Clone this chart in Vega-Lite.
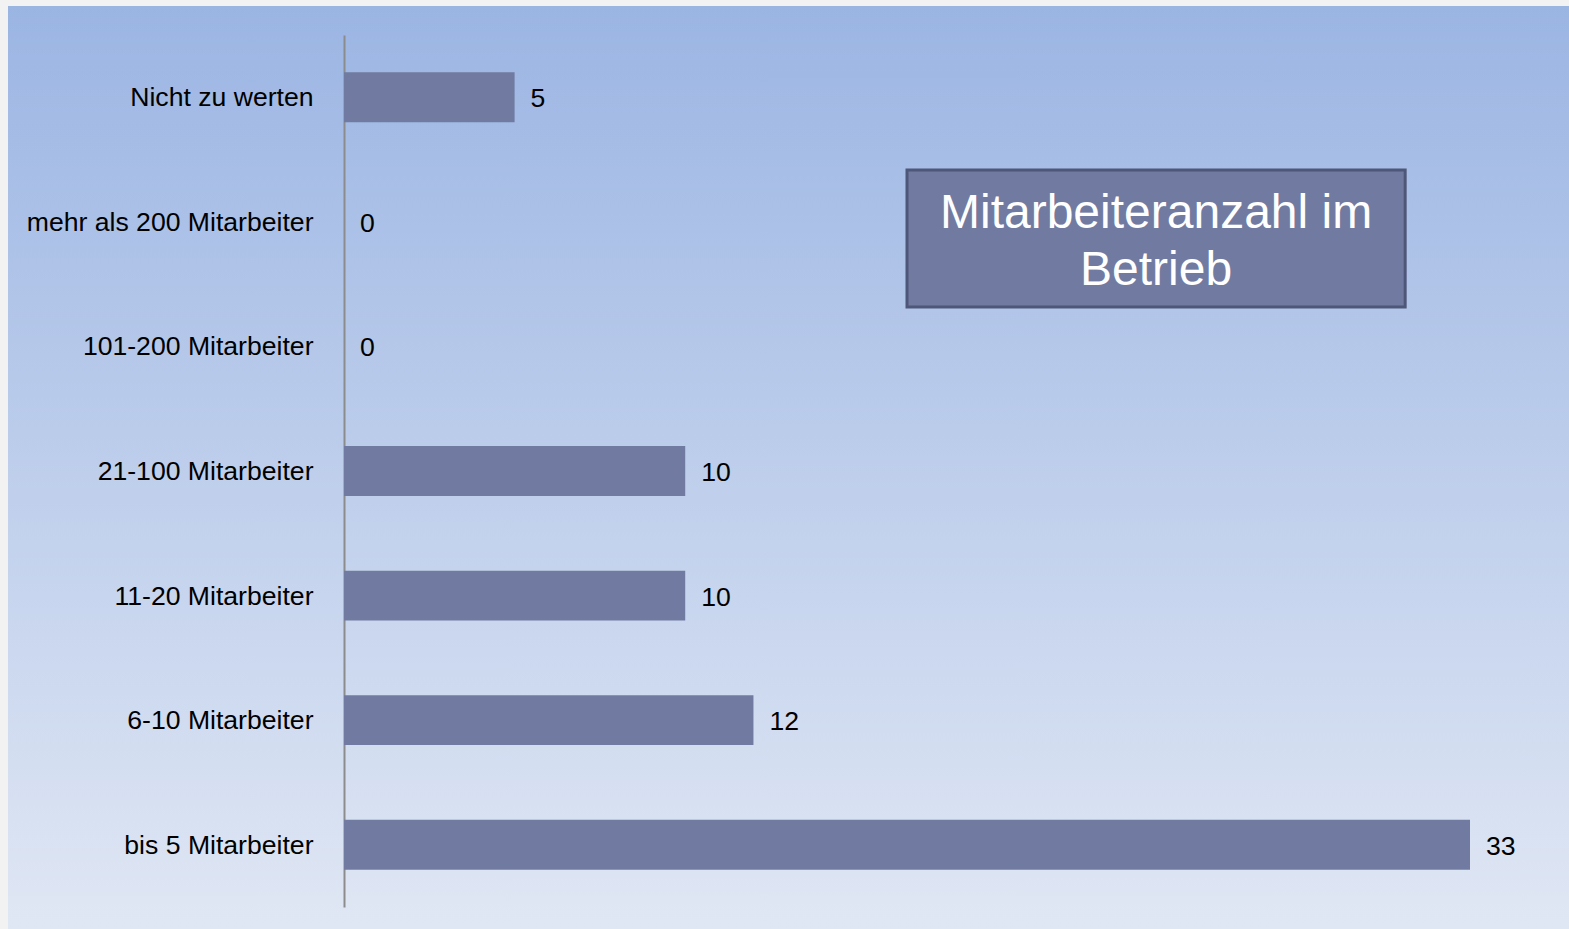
{
  "$schema": "https://vega.github.io/schema/vega-lite/v6.json",
  "width": 1561,
  "height": 923,
  "autosize": {"type": "none"},
  "padding": {"left": 8, "top": 6, "right": 0, "bottom": 0},
  "background": "#f2f2f2",
  "config": {
    "font": "Liberation Sans",
    "view": {
      "stroke": null,
      "fill": {
        "gradient": "linear", "x1": 0, "y1": 0, "x2": 0, "y2": 1,
        "stops": [
          {"offset": 0, "color": "#9bb5e3"},
          {"offset": 1, "color": "#e0e7f4"}
        ]
      }
    }
  },
  "data": {
    "values": [
      {"category": "Nicht zu werten", "count": 5},
      {"category": "mehr als 200 Mitarbeiter", "count": 0},
      {"category": "101-200 Mitarbeiter", "count": 0},
      {"category": "21-100 Mitarbeiter", "count": 10},
      {"category": "11-20 Mitarbeiter", "count": 10},
      {"category": "6-10 Mitarbeiter", "count": 12},
      {"category": "bis 5 Mitarbeiter", "count": 33}
    ]
  },
  "layer": [
    {
      "mark": {"type": "bar", "color": "#717ba1"},
      "encoding": {
        "y": {
          "field": "category", "type": "nominal", "sort": null,
          "scale": {"range": [29, 901], "paddingInner": 0.6, "paddingOuter": 0.3},
          "axis": {
            "title": null, "offset": -336, "ticks": false,
            "domainColor": "#8c8c8c", "domainWidth": 2,
            "labelPadding": 31, "labelFontSize": 26.6, "labelColor": "#000000",
            "labelFont": "Liberation Sans", "labelLimit": 500, "labelOffset": 1
          }
        },
        "x": {
          "field": "count", "type": "quantitative",
          "scale": {"domain": [0, 33], "range": [336, 1462], "nice": false},
          "axis": null
        }
      }
    },
    {
      "mark": {"type": "text", "align": "left", "baseline": "middle", "dx": 16, "dy": 2, "fontSize": 26.6, "color": "#000000"},
      "encoding": {
        "y": {"field": "category", "type": "nominal", "sort": null},
        "x": {"field": "count", "type": "quantitative"},
        "text": {"field": "count", "type": "quantitative"}
      }
    },
    {
      "data": {"values": [{"label": "Mitarbeiteranzahl im Betrieb"}]},
      "mark": {"type": "rect", "fill": "#717ba1", "stroke": "#4f5779", "strokeWidth": 3},
      "encoding": {
        "x": {"datum": 16.5, "type": "quantitative"},
        "x2": {"datum": 31.1},
        "y": {"value": 164},
        "y2": {"value": 301}
      }
    },
    {
      "data": {"values": [{"label": "Mitarbeiteranzahl im Betrieb"}]},
      "mark": {"type": "text", "align": "center", "baseline": "middle", "fontSize": 48, "lineHeight": 57, "color": "#ffffff"},
      "encoding": {
        "x": {"datum": 23.8, "type": "quantitative"},
        "y": {"value": 207.5},
        "text": {"value": ["Mitarbeiteranzahl im", "Betrieb"]}
      }
    }
  ]
}
